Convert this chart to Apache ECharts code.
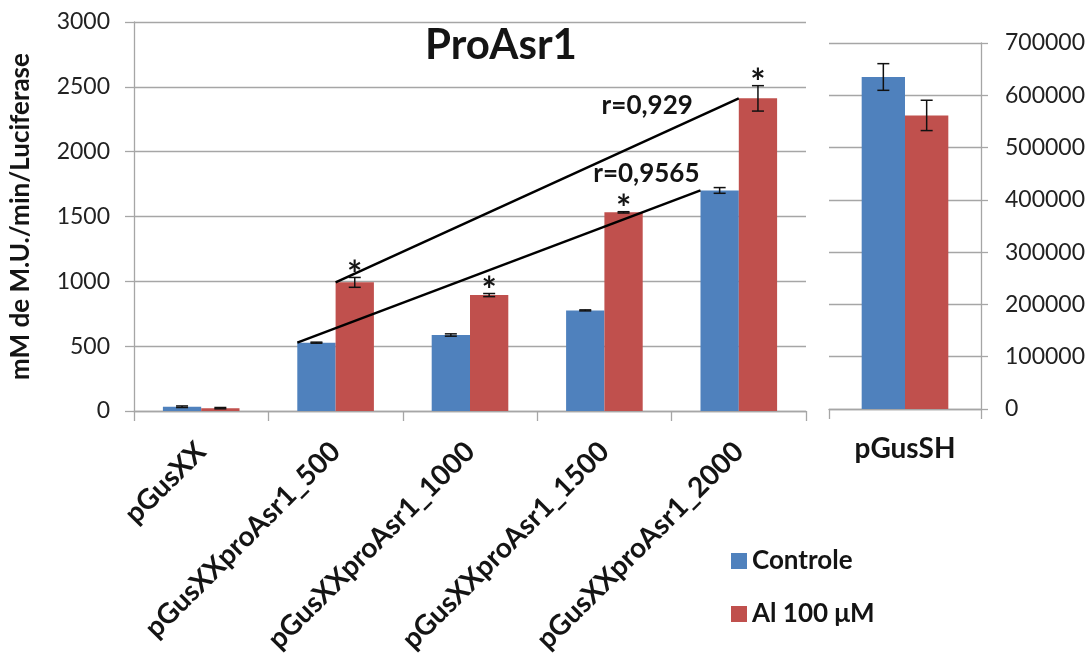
<!DOCTYPE html>
<html>
<head>
<meta charset="utf-8">
<title>ProAsr1</title>
<script src="https://cdn.jsdelivr.net/npm/echarts@6/dist/echarts.min.js"></script>
<style>
  html, body { margin: 0; padding: 0; background: #fff; }
  #chart { width: 1089px; height: 662px; }
</style>
</head>
<body>
<div id="chart"></div>
<script>
// Promoter constructs (left panel, left axis)
const categories = ['pGusXX', 'pGusXXproAsr1_500', 'pGusXXproAsr1_1000', 'pGusXXproAsr1_1500', 'pGusXXproAsr1_2000'];
const controle = [33, 527, 586, 776, 1701];
const controleErr = [6, 4, 9, 4, 22];
const al100 = [22, 992, 894, 1532, 2411];
const al100Err = [5, 38, 12, 5, 98];
const al100Sig = [false, true, true, true, true];

// Reference construct (right panel, right axis)
const refCategories = ['pGusSH'];
const refControle = [635000];
const refControleErr = [25500];
const refAl100 = [561500];
const refAl100Err = [29000];

// Axis ranges and steps
const leftAxisMax = 3000, leftAxisStep = 500;
const rightAxisMax = 700000, rightAxisStep = 100000;

// Correlation lines between the 500 and 2000 constructs
const trendFrom = 1, trendTo = 4;
const corrControle = 'r=0,9565';
const corrAl100 = 'r=0,929';

const seriesNames = ['Controle', 'Al 100 μM'];
const colors = ['#4F81BD', '#C0504D'];

const FONT = 'Lato, "Liberation Sans", Arial, sans-serif';
const GRID_COLOR = '#a6a6a6';
const TEXT_COLOR = '#141414';
const CATEGORY_GAP = 0.43;           // share of each category left empty
const BAR_FRACTION = (1 - CATEGORY_GAP) / 2;

// Error bars (and significance stars) drawn over the bars
function errorSeries(name, values, errs, side, xAxisIndex, yAxisIndex, sig) {
  return {
    type: 'custom',
    name: name + ' err',
    xAxisIndex: xAxisIndex,
    yAxisIndex: yAxisIndex,
    z: 5,
    silent: true,
    data: values.map((v, i) => [i, v, errs[i], sig && sig[i] ? 1 : 0]),
    renderItem: function (params, api) {
      const idx = api.value(0);
      const v = api.value(1);
      const e = api.value(2);
      const band = api.size([1, 0])[0];
      const barW = band * BAR_FRACTION;
      const x = api.coord([idx, v])[0] + side * barW / 2;
      const yTop = api.coord([idx, v + e])[1];
      const yBot = api.coord([idx, v - e])[1];
      const cap = 6;
      const style = { stroke: '#111', lineWidth: 1.5 };
      const children = [
        { type: 'line', shape: { x1: x, y1: yTop, x2: x, y2: yBot }, style: style },
        { type: 'line', shape: { x1: x - cap, y1: yTop, x2: x + cap, y2: yTop }, style: style },
        { type: 'line', shape: { x1: x - cap, y1: yBot, x2: x + cap, y2: yBot }, style: style }
      ];
      if (api.value(3)) {
        children.push({
          type: 'text',
          style: {
            text: '*', x: x, y: yTop - 2,
            align: 'center', verticalAlign: 'middle',
            font: 'bold 36px ' + FONT, fill: TEXT_COLOR
          }
        });
      }
      return { type: 'group', children: children };
    }
  };
}

// Straight line joining two bars' top-left corners, labelled at its upper end
function trendSeries(values, sideOffset, label, labelOpts) {
  const x0 = trendFrom + 0.5 + sideOffset;
  const x1 = trendTo + 0.5 + sideOffset;
  return {
    type: 'line',
    name: label,
    xAxisIndex: 2,
    yAxisIndex: 0,
    z: 6,
    silent: true,
    symbol: 'circle',
    symbolSize: 0.01,
    showSymbol: true,
    itemStyle: { color: '#000' },
    lineStyle: { color: '#000', width: 2.5 },
    data: [
      { value: [x0, values[trendFrom]], label: { show: false } },
      {
        value: [x1, values[trendTo]],
        label: Object.assign({
          show: true,
          formatter: label,
          color: TEXT_COLOR,
          fontFamily: FONT,
          fontWeight: 'bold',
          fontSize: 26
        }, labelOpts)
      }
    ]
  };
}

const plainNumber = v => String(v);

const chart = echarts.init(document.getElementById('chart'), null, { renderer: 'canvas' });

const axisLineStyle = { show: true, lineStyle: { color: GRID_COLOR, width: 1.3 } };
const tickStyle = { show: true, length: 9, lineStyle: { color: GRID_COLOR, width: 1.3 } };
const splitStyle = { show: true, lineStyle: { color: GRID_COLOR, width: 1.3 } };

const option = {
  animation: false,
  backgroundColor: '#ffffff',
  title: {
    text: 'ProAsr1',
    left: 496,
    top: 19,
    textAlign: 'center',
    textStyle: { fontFamily: FONT, fontWeight: 'bold', fontSize: 42, color: TEXT_COLOR }
  },
  legend: {
    data: seriesNames,
    orient: 'vertical',
    left: 726,
    top: 543,
    icon: 'rect',
    itemWidth: 16,
    itemHeight: 16,
    itemGap: 27,
    textStyle: { fontFamily: FONT, fontWeight: 'bold', fontSize: 26, color: TEXT_COLOR }
  },
  grid: [
    { left: 127, top: 22, width: 679, height: 389 },
    { left: 829, top: 43, width: 152, height: 366 }
  ],
  xAxis: [
    {
      type: 'category', gridIndex: 0, data: categories,
      axisLine: axisLineStyle,
      axisTick: Object.assign({}, tickStyle, { length: 10, interval: 0 }),
      axisLabel: {
        interval: 0, rotate: 45, margin: 36,
        fontFamily: FONT, fontWeight: 'bold', fontSize: 28, color: TEXT_COLOR
      }
    },
    {
      type: 'category', gridIndex: 1, data: refCategories,
      axisLine: axisLineStyle,
      axisTick: Object.assign({}, tickStyle, { length: 10, interval: 0 }),
      axisLabel: {
        interval: 0, margin: 26,
        fontFamily: FONT, fontWeight: 'bold', fontSize: 28, color: TEXT_COLOR
      }
    },
    {
      type: 'value', gridIndex: 0, position: 'top', show: false,
      min: 0, max: categories.length
    }
  ],
  yAxis: [
    {
      type: 'value', gridIndex: 0, min: 0, max: leftAxisMax, interval: leftAxisStep,
      name: 'mM de M.U./min/Luciferase',
      nameLocation: 'middle', nameGap: 100,
      nameTextStyle: { fontFamily: FONT, fontWeight: 'bold', fontSize: 26, color: TEXT_COLOR },
      axisLine: axisLineStyle,
      axisTick: tickStyle,
      splitLine: splitStyle,
      axisLabel: { margin: 24, fontFamily: FONT, fontSize: 23, color: '#222', formatter: plainNumber }
    },
    {
      type: 'value', gridIndex: 1, position: 'right',
      min: 0, max: rightAxisMax, interval: rightAxisStep,
      axisLine: axisLineStyle,
      axisTick: Object.assign({}, tickStyle, { length: 7 }),
      splitLine: splitStyle,
      axisLabel: { margin: 24, fontFamily: FONT, fontSize: 23, color: '#222', formatter: plainNumber }
    }
  ],
  series: [
    {
      type: 'bar', name: seriesNames[0], xAxisIndex: 0, yAxisIndex: 0,
      data: controle, barGap: '0%', barCategoryGap: (CATEGORY_GAP * 100) + '%',
      itemStyle: { color: colors[0] }
    },
    {
      type: 'bar', name: seriesNames[1], xAxisIndex: 0, yAxisIndex: 0,
      data: al100, barGap: '0%', barCategoryGap: (CATEGORY_GAP * 100) + '%',
      itemStyle: { color: colors[1] }
    },
    {
      type: 'bar', name: seriesNames[0], xAxisIndex: 1, yAxisIndex: 1,
      data: refControle, barGap: '0%', barCategoryGap: (CATEGORY_GAP * 100) + '%',
      itemStyle: { color: colors[0] }
    },
    {
      type: 'bar', name: seriesNames[1], xAxisIndex: 1, yAxisIndex: 1,
      data: refAl100, barGap: '0%', barCategoryGap: (CATEGORY_GAP * 100) + '%',
      itemStyle: { color: colors[1] }
    },
    errorSeries(seriesNames[0], controle, controleErr, -1, 0, 0, null),
    errorSeries(seriesNames[1], al100, al100Err, 1, 0, 0, al100Sig),
    errorSeries(seriesNames[0], refControle, refControleErr, -1, 1, 1, null),
    errorSeries(seriesNames[1], refAl100, refAl100Err, 1, 1, 1, null),
    trendSeries(al100, 0, corrAl100, { position: 'left', distance: 46, offset: [0, 7] }),
    trendSeries(controle, -BAR_FRACTION, corrControle, { position: 'left', distance: 1, offset: [0, -17] })
  ]
};

chart.setOption(option);
</script>
</body>
</html>
